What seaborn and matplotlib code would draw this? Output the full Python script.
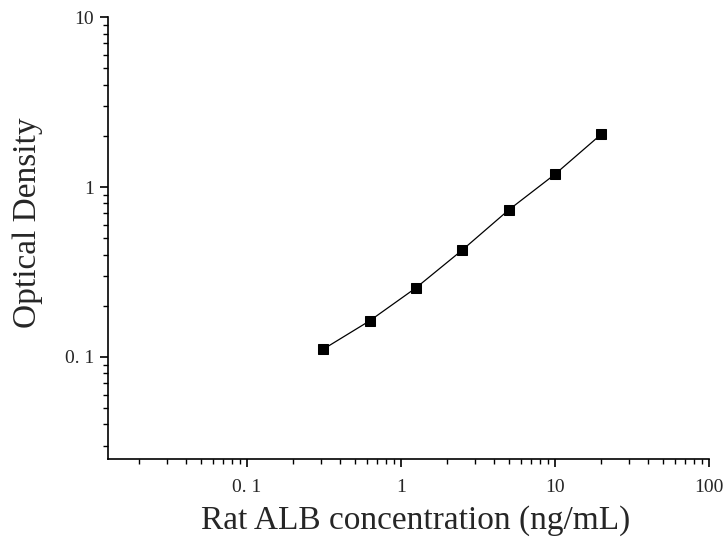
import numpy as np
import pandas as pd
import matplotlib
matplotlib.use("Agg")
import matplotlib.pyplot as plt
import seaborn as sns
from matplotlib.ticker import LogLocator, FixedLocator, FixedFormatter, NullFormatter

# Standardkurve
conc = [0.3125, 0.625, 1.25, 2.5, 5, 10, 20]
od = [0.111, 0.163, 0.255, 0.426, 0.733, 1.19, 2.05]

x_ticks = [0.1, 1, 10, 100]
x_labels = ["0. 1", "1", "10", "100"]
y_ticks = [0.1, 1, 10]
y_labels = ["0. 1", "1", "10"]

df = pd.DataFrame({"conc": conc, "od": od})

sns.set_style("ticks")
plt.rcParams["font.family"] = ["Liberation Serif", "DejaVu Serif"]

fig = plt.figure(figsize=(7.25, 5.37), dpi=100)
ax = fig.add_axes([0.149, 0.145, 0.829, 0.823])

sns.lineplot(data=df, x="conc", y="od", ax=ax, color="black", linewidth=0.9,
             marker="s", markersize=7, markeredgecolor="black", markerfacecolor="black")

ax.set_xscale("log")
ax.set_yscale("log")
ax.set_xlim(0.0125, 100)
ax.set_ylim(0.025, 10)

ax.xaxis.set_major_locator(FixedLocator(x_ticks))
ax.xaxis.set_major_formatter(FixedFormatter(x_labels))
ax.yaxis.set_major_locator(FixedLocator(y_ticks))
ax.yaxis.set_major_formatter(FixedFormatter(y_labels))
ax.xaxis.set_minor_locator(LogLocator(base=10, subs=np.arange(2, 10)))
ax.yaxis.set_minor_locator(LogLocator(base=10, subs=np.arange(2, 10)))
ax.xaxis.set_minor_formatter(NullFormatter())
ax.yaxis.set_minor_formatter(NullFormatter())

ax.tick_params(which="major", direction="out", length=6, width=1.2, labelsize=14, color="black")
ax.tick_params(which="minor", direction="out", length=3.5, width=1.0, color="black")
ax.tick_params(axis="x", pad=8)
ax.tick_params(axis="y", pad=4)

for side in ["top", "right"]:
    ax.spines[side].set_visible(False)
for side in ["left", "bottom"]:
    ax.spines[side].set_linewidth(1.2)
    ax.spines[side].set_color("black")

ax.set_xlabel("Rat ALB concentration (ng/mL)", fontsize=24, labelpad=8)
ax.set_ylabel("Optical Density", fontsize=24, labelpad=16)
ax.xaxis.set_label_coords(0.512, -0.105)
ax.yaxis.label.set_y(0.536)

fig.savefig("out.png", dpi=100)
